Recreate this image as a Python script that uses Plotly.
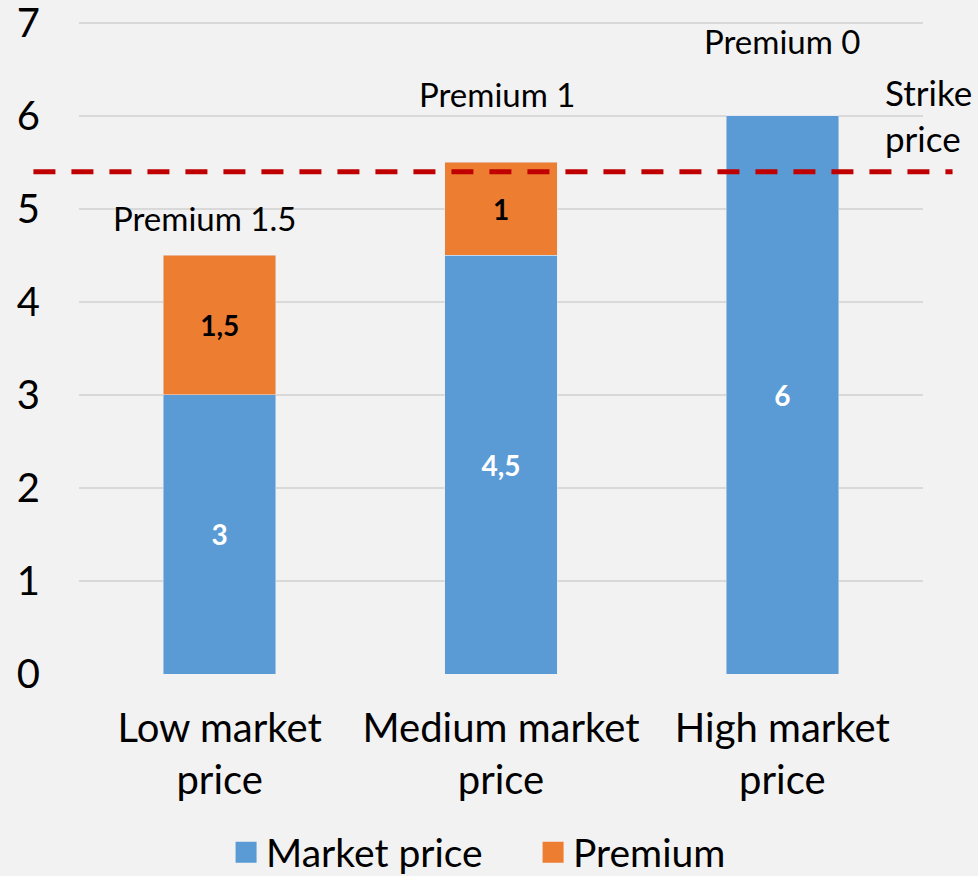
import plotly.graph_objects as go

categories = ["Low market<br>price", "Medium market<br>price", "High market<br>price"]
market_price = [3, 4.5, 6]
premium = [1.5, 1, 0]
premium_labels = ["Premium 1.5", "Premium 1", "Premium 0"]
strike_price = 5.4
y_ticks = [0, 1, 2, 3, 4, 5, 6, 7]

BLUE = "#5B9BD5"
ORANGE = "#ED7D31"
FONT = "Lato"


def fmt(v):
    return ("%g" % v).replace(".", ",") if v else ""


fig = go.Figure()
fig.add_trace(go.Bar(
    x=categories, y=market_price, name="Market price", marker_color=BLUE,
    text=[fmt(v) for v in market_price], textposition="inside", insidetextanchor="middle",
    texttemplate="<b>%{text}</b>", textfont=dict(color="white", size=28, family=FONT),
    showlegend=False, hoverinfo="skip"))
fig.add_trace(go.Bar(
    x=categories, y=premium, name="Premium", marker_color=ORANGE,
    text=[fmt(v) for v in premium], textposition="inside", insidetextanchor="middle",
    texttemplate="<b>%{text}</b>", textfont=dict(color="black", size=28, family=FONT),
    showlegend=False, hoverinfo="skip"))

# legend proxies (larger squares)
for nm, col in [("Market price", BLUE), ("Premium", ORANGE)]:
    fig.add_trace(go.Scatter(
        x=[None], y=[None], mode="markers", name=nm,
        marker=dict(symbol="square", size=16, color=col, line=dict(color=col, width=5))))

# strike price line
fig.add_shape(type="line", xref="paper", yref="y", x0=-0.054, x1=1.035,
              y0=strike_price, y1=strike_price,
              line=dict(color="#C00000", width=5, dash="22px,16px"))
fig.add_annotation(text="Strike<br>price", xref="paper", yref="y", x=1.0, y=strike_price + 0.11,
                   xanchor="left", yanchor="bottom", showarrow=False, align="left",
                   font=dict(size=35, family=FONT, color="black"), xshift=-40)

# premium labels above bars
offsets = [0.40, 0.73, 0.81]
for i, lab in enumerate(premium_labels):
    top = market_price[i] + premium[i]
    fig.add_annotation(text=lab, x=categories[i], y=top + offsets[i], xref="x", yref="y",
                       showarrow=False, font=dict(size=33, family=FONT, color="black"),
                       xshift=[-15, -4, 0][i])

fig.update_layout(
    barmode="stack", bargap=0.6,
    width=978, height=876,
    paper_bgcolor="#F2F2F2", plot_bgcolor="#F2F2F2",
    margin=dict(l=79, r=55, t=21, b=202),
    font=dict(family=FONT, color="black"),
    legend=dict(orientation="h", x=0.538, xanchor="center",
                yref="container", y=0.027, yanchor="middle",
                font=dict(size=39, family=FONT), itemwidth=30, bgcolor="rgba(0,0,0,0)",
                traceorder="normal", entrywidth=262, entrywidthmode="pixels"),
    xaxis=dict(tickfont=dict(size=40, family=FONT), showgrid=False, showline=False,
               ticks="", ticklabelstandoff=27, automargin=False),
    yaxis=dict(range=[0, 7.02], tickvals=y_ticks, tickfont=dict(size=40, family=FONT),
               showgrid=True, gridcolor="#D9D9D9", gridwidth=2, zeroline=False,
               showline=False, ticks="", ticklabelstandoff=38, ticklabeloverflow="allow",
               automargin=False),
)

fig.write_html("out.html", config={"displayModeBar": False},
               post_script="document.body.style.margin='0';")
